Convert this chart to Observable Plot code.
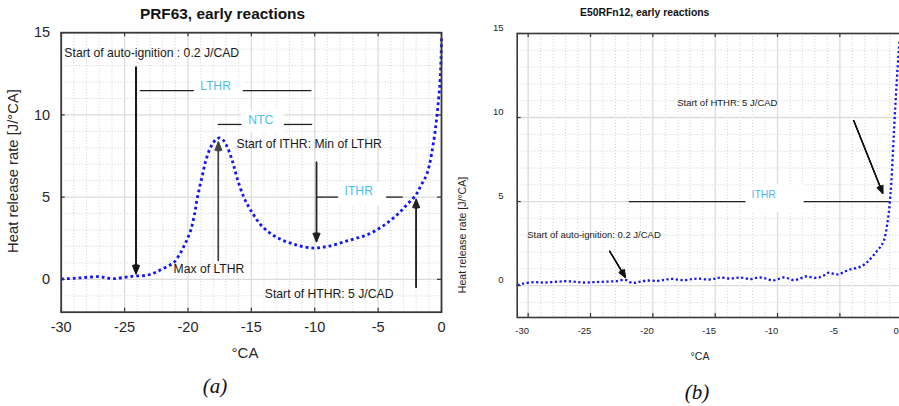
<!DOCTYPE html>
<html><head><meta charset="utf-8">
<script src="https://cdn.jsdelivr.net/npm/d3@7"></script>
<script src="https://cdn.jsdelivr.net/npm/@observablehq/plot@0.6"></script>
<style>
body{margin:0;background:#fff;}
#wrap{position:relative;width:899px;height:406px;overflow:hidden;font-family:"Liberation Sans",Arial,sans-serif;color:#111;background:#fff;}
#wrap svg{position:absolute;top:0;}
.t{position:absolute;white-space:nowrap;transform:translate(-50%,-50%);line-height:1;}
.r{transform:translate(-50%,-50%) rotate(-90deg);}
.cap{font-family:"Liberation Serif","Times New Roman",serif;font-style:italic;font-size:21px;}
</style></head><body><div id="wrap"></div>
<script>
// ---------- data: panel (a) PRF63 ----------
const aCA  = [-30,-29,-28,-27,-26.5,-25.9,-25,-24.2,-23.3,-22.7,-22.2,-21.6,-21.1,-20.6,-20.2,-19.8,-19.5,-19.25,-18.9,-18.6,-18.2,-17.8,-17.5,-17.2,-16.9,-16.5,-16.1,-15.6,-15.2,-14.8,-14.3,-13.6,-12.96,-12.3,-11.65,-10.9,-10.07,-9.4,-8.75,-8.1,-7.44,-6.8,-6.1,-5.4,-4.81,-4.3,-3.76,-3.2,-2.7,-2.05,-1.65,-1.13,-0.6,-0.34,-0.13,-0.04,0];
const aHRR = [0.02,0.06,0.12,0.16,0.1,0.04,0.12,0.2,0.24,0.38,0.56,0.8,1.03,1.6,2.2,2.94,3.9,5.0,6.2,7.2,8.05,8.5,8.6,8.45,8.05,7.2,6.1,5.0,4.4,3.9,3.35,2.85,2.54,2.3,2.14,1.98,1.9,1.95,2.04,2.18,2.34,2.48,2.64,2.88,3.15,3.42,3.75,4.15,4.56,5.1,5.66,6.46,8.48,10.1,11.9,13.4,14.7];
// ---------- data: panel (b) E50RFn12 ----------
const bCA  = [-30.85,-30.4,-29.55,-28.8,-28.2,-27.5,-26.9,-26.2,-25.5,-24.8,-24.2,-23.5,-22.9,-22.2,-21.66,-21.1,-20.45,-19.65,-19.1,-18.6,-18.0,-17.5,-16.9,-16.4,-15.5,-15.0,-14.6,-13.8,-12.97,-12.2,-11.8,-11.36,-10.9,-10.4,-9.9,-9.5,-9.1,-8.7,-8.2,-7.75,-7.3,-6.8,-6.3,-5.88,-5.5,-5.08,-4.7,-4.28,-3.8,-3.34,-2.95,-2.67,-2.3,-2.0,-1.7,-1.47,-1.3,-1.2,-1.08,-0.99,-0.88,-0.67,-0.45,-0.27,-0.2];
const bHRR = [0.02,0.12,0.2,0.18,0.2,0.24,0.26,0.22,0.18,0.2,0.22,0.24,0.26,0.34,0.16,0.22,0.3,0.28,0.34,0.4,0.36,0.32,0.38,0.42,0.36,0.42,0.48,0.42,0.48,0.38,0.44,0.48,0.42,0.3,0.4,0.48,0.42,0.32,0.42,0.54,0.5,0.46,0.6,0.77,0.7,0.67,0.8,0.93,1.02,1.13,1.3,1.49,1.8,2.08,2.35,2.68,3.2,3.67,4.3,5.0,6.05,9.03,12.0,14.0,14.6];
// ---------- ticks ----------
const xTicks = [-30,-25,-20,-15,-10,-5,0];
const yTicks = [0,5,10,15];
const xMinor = [-29,-28,-27,-26,-24,-23,-22,-21,-19,-18,-17,-16,-14,-13,-12,-11,-9,-8,-7,-6,-4,-3,-2,-1];
const yMinor = [-1,1,2,3,4,6,7,8,9,11,12,13,14];
// ---------- annotations (data coordinates) ----------
const aNotes = [
  {x:-29.75, y:13.74, text:"Start of auto-ignition : 0.2 J/CAD"},
  {x:-16.17, y:8.2,   text:"Start of ITHR: Min of LTHR"},
  {x:-21.14, y:0.6,   text:"Max of LTHR"},
  {x:-13.94, y:-0.92, text:"Start of HTHR: 5 J/CAD"}
];
const aPhases = [
  {x:-17.83, y:11.75, text:"LTHR"},
  {x:-14.26, y:9.7,   text:"NTC"},
  {x:-6.53,  y:5.36,  text:"ITHR"}
];
const aBoxes = [
  {x1:-19.54, x2:-15.68, y1:12.2, y2:11.0},
  {x1:-15.78, x2:-12.44, y1:10.26, y2:8.93},
  {x1:-8.15,  x2:-4.37,  y1:5.89, y2:4.43}
];
const aSegs = [
  {x1:-23.8, x2:-19.54, y:11.48}, {x1:-15.68, x2:-10.26, y:11.48},
  {x1:-17.65, x2:-15.78, y:9.42}, {x1:-12.44, x2:-10.2, y:9.42},
  {x1:-9.86, x2:-8.15, y:5.0},    {x1:-4.37, x2:-3.06, y:5.0}
];
const aArrows = [
  {x1:-24.1, y1:12.9, x2:-24.1, y2:0.35, c:"#111"},
  {x1:-17.6, y1:1.14, x2:-17.6, y2:8.34, c:"#444"},
  {x1:-9.86, y1:7.12, x2:-9.86, y2:2.3,  c:"#222"},
  {x1:-2.0,  y1:-0.48, x2:-2.0, y2:4.86, c:"#222"}
];
const bNotes = [
  {x:-18.05, y:10.85, text:"Start of HTHR: 5 J/CAD"},
  {x:-30.08, y:3.02,  text:"Start of auto-ignition: 0.2 J/CAD"}
];
const bPhases = [{x:-11.11, y:5.42, text:"ITHR"}];
const bBoxes = [{x1:-12.57, x2:-7.9, y1:6.0, y2:4.35}];
const bSegs = [{x1:-21.93, x2:-12.57, y:5.0}, {x1:-7.9, x2:-1.0, y:5.0}];
const bArrows = [
  {x1:-3.89, y1:9.82, x2:-1.56, y2:5.49, c:"#111"},
  {x1:-23.46, y1:2.04, x2:-22.2, y2:0.49, c:"#111"}
];

const FONT = '"Liberation Sans", Arial, sans-serif';

function panel(o) {
  const pxX = (o.width - o.ml - o.mr) / (o.xd[1] - o.xd[0]);
  const pxY = (o.height - o.mt - o.mb) / (o.yd[1] - o.yd[0]);
  const tx = o.tick / pxY, ty = o.tick / pxX;
  const curve = o.cx.map((x, i) => ({x, y: o.cy[i]}));
  const marks = [
    Plot.ruleX(o.xMinor, {stroke:"#c8c8c8", strokeWidth:0.8, strokeDasharray:"1,2"}),
    Plot.ruleY(o.yMinor, {stroke:"#c8c8c8", strokeWidth:0.8, strokeDasharray:"1,2"}),
    Plot.ruleX(xTicks, {stroke:"#dcdcdc", strokeWidth:1.3}),
    Plot.ruleY(yTicks, {stroke:"#dcdcdc", strokeWidth:1.3}),
    Plot.rect(o.boxes, {x1:"x1", x2:"x2", y1:"y1", y2:"y2", fill:"white"}),
    Plot.link(o.segs, {x1:"x1", x2:"x2", y1:"y", y2:"y", stroke:"#222", strokeWidth:1.3}),
  ];
  for (const ha of [18, 32, 46]) {
    marks.push(Plot.arrow(o.arrows, {x1:"x1", y1:"y1", x2:"x2", y2:"y2", stroke:"c", strokeWidth:1.3, headAngle:ha, headLength:o.head}));
  }
  marks.push(
    Plot.line(curve, {x:"x", y:"y", stroke:"#1212ff", strokeWidth:o.lw, strokeDasharray:o.dash, strokeLinecap:"butt", strokeLinejoin:"miter", curve:"catmull-rom"}),
    Plot.text(o.notes, {x:"x", y:"y", text:"text", textAnchor:"start", fontSize:o.noteSize, fill:"#1a1a1a", fontFamily:FONT}),
    Plot.text(o.phases, {x:"x", y:"y", text:"text", fontSize:o.phaseSize, fill:"#4dbdf0", fontFamily:FONT}),
    // inward ticks on all four sides
    Plot.ruleX(xTicks.filter(d => d >= o.xd[0] && d <= o.xd[1]), {y1:o.yd[0], y2:o.yd[0] + tx, stroke:"#333", strokeWidth:1.2}),
    Plot.ruleX(xTicks.filter(d => d >= o.xd[0] && d <= o.xd[1]), {y1:o.yd[1], y2:o.yd[1] - tx, stroke:"#333", strokeWidth:1.2}),
    Plot.ruleY(yTicks, {x1:o.xd[0], x2:o.xd[0] + ty, stroke:"#333", strokeWidth:1.2}),
    Plot.ruleY(yTicks, {x1:o.xd[1], x2:o.xd[1] - ty, stroke:"#333", strokeWidth:1.2}),
    Plot.axisX(xTicks, {tickSize:0, tickPadding:o.xpad, tickFormat:d => `${d}`, label:null, dx:o.xdx, fontSize:o.tickSize, fill:"#262626"}),
    Plot.axisY(yTicks, {tickSize:0, tickPadding:o.ypad, tickFormat:d => `${d}`, label:null, dy:o.ydy, fontSize:o.tickSize, fill:"#262626"}),
    Plot.frame({stroke:"#3a3a3a", strokeWidth:o.fw})
  );
  const svg = Plot.plot({
    width:o.width, height:o.height,
    marginLeft:o.ml, marginRight:o.mr, marginTop:o.mt, marginBottom:o.mb,
    x:{domain:o.xd}, y:{domain:o.yd},
    style:{fontFamily:FONT, fontSize:o.tickSize + "px", background:"transparent", overflow:"visible"},
    marks
  });
  svg.style.left = o.left + "px";
  return svg;
}

const wrap = document.getElementById("wrap");
wrap.appendChild(panel({
  left:0, width:450, height:406, ml:60.7, mr:9, mt:32.2, mb:94.3,
  xd:[-30,0], yd:[-2,15], cx:aCA, cy:aHRR,
  xMinor, yMinor, boxes:aBoxes, segs:aSegs, arrows:aArrows, notes:aNotes, phases:aPhases,
  lw:2.8, dash:"2.8,3", head:10, noteSize:12.2, phaseSize:12.2, tickSize:14.5,
  xpad:10, ypad:11, xdx:0, ydy:0, tick:4, fw:1.8
}));
wrap.appendChild(panel({
  left:450, width:470, height:406, ml:66.7, mr:15.8, mt:33, mb:89,
  xd:[-30.88,0.2], yd:[-1.9,15], cx:bCA, cy:bHRR,
  xMinor:[-30, ...xMinor], yMinor, boxes:bBoxes, segs:bSegs, arrows:bArrows, notes:bNotes, phases:bPhases,
  lw:2.3, dash:"2.2,2.5", head:9, noteSize:9.5, phaseSize:10.4, tickSize:9.5,
  xpad:9.6, ypad:13.7, xdx:-6, ydy:-6, tick:4, fw:1.6
}));

const texts = [
  {t:"PRF63, early reactions", x:222.5, y:14, s:"font-weight:bold;font-size:15.4px;"},
  {t:"°CA", x:245, y:352, s:"font-size:15px;color:#262626;"},
  {t:"Heat release rate [J/°CA]", x:12.5, y:171, s:"font-size:14.8px;color:#262626;", r:true},
  {t:"(a)", x:215, y:386, s:"", c:"cap"},
  {t:"E50RFn12, early reactions", x:644.7, y:12.7, s:"font-weight:bold;font-size:10.4px;"},
  {t:"°CA", x:700, y:356, s:"font-size:10.5px;color:#262626;"},
  {t:"Heat release rate [J/°CA]", x:462, y:235, s:"font-size:10.5px;color:#262626;", r:true},
  {t:"(b)", x:697, y:391.5, s:"", c:"cap"}
];
for (const d of texts) {
  const el = document.createElement("div");
  el.className = "t" + (d.r ? " r" : "") + (d.c ? " " + d.c : "");
  el.style.cssText = `left:${d.x}px;top:${d.y}px;` + d.s;
  el.textContent = d.t;
  wrap.appendChild(el);
}
</script></body></html>
